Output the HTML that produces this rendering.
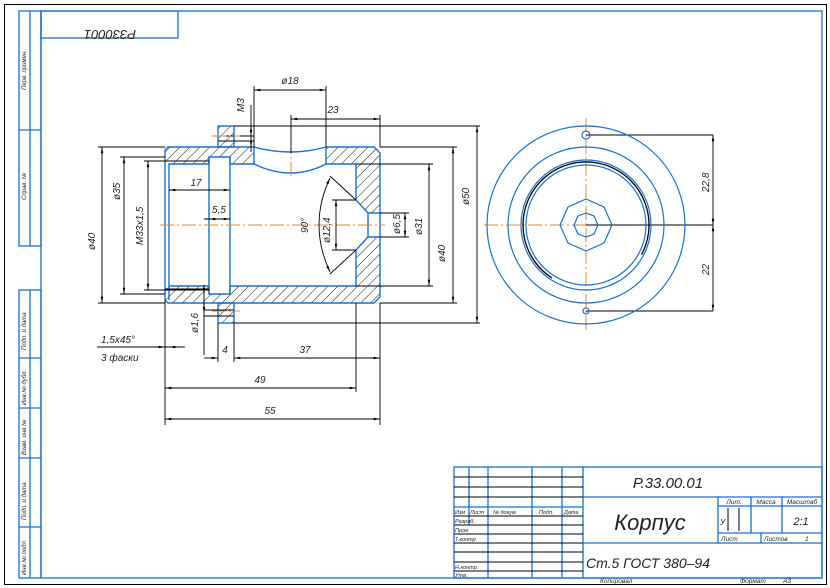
<!DOCTYPE html>
<html><head><meta charset="utf-8"><style>
html,body{margin:0;padding:0;background:#fff;}
svg{display:block;font-family:"Liberation Sans","DejaVu Sans",sans-serif;}
.t{font-style:italic;fill:#222;}
</style></head><body>
<svg width="830" height="588" viewBox="0 0 830 588" xmlns="http://www.w3.org/2000/svg">
<defs>
<pattern id="h" patternUnits="userSpaceOnUse" width="7" height="7" patternTransform="rotate(45)">
<line x1="0" y1="0" x2="0" y2="7" stroke="#000" stroke-width="0.9"/>
</pattern>
<marker id="a" viewBox="0 0 10 4" refX="10" refY="2" markerWidth="7" markerHeight="3" orient="auto-start-reverse"><path d="M0,0 L10,2 L0,4 z" fill="#000"/></marker>
</defs>
<rect x="0" y="0" width="830" height="588" fill="#fff"/>
<rect x="4.5" y="4.5" width="822" height="580" fill="none" stroke="#000" stroke-width="1"/>
<g fill="none" stroke="#1a6fd0" stroke-width="1.3">
<rect x="41" y="11" width="781" height="567"/>
<rect x="19" y="11" width="22" height="235"/>
<line x1="30" y1="11" x2="30" y2="246"/>
<line x1="19" y1="130" x2="41" y2="130"/>
<rect x="19" y="290" width="22" height="288"/>
<line x1="30" y1="290" x2="30" y2="578"/>
<line x1="19" y1="358" x2="41" y2="358"/>
<line x1="19" y1="408" x2="41" y2="408"/>
<line x1="19" y1="458" x2="41" y2="458"/>
<line x1="19" y1="527" x2="41" y2="527"/>
<rect x="41" y="11" width="137" height="27"/>
<rect x="454" y="467" width="368" height="111"/>
<line x1="583" y1="467" x2="583" y2="578"/>
<line x1="583" y1="497" x2="822" y2="497"/>
<line x1="583" y1="543" x2="822" y2="543"/>
<line x1="718" y1="497" x2="718" y2="543"/>
<line x1="751" y1="497" x2="751" y2="533"/>
<line x1="782" y1="497" x2="782" y2="533"/>
<line x1="718" y1="506" x2="822" y2="506"/>
<line x1="718" y1="533" x2="822" y2="533"/>
<line x1="761" y1="533" x2="761" y2="543"/>
<line x1="469" y1="467" x2="469" y2="525"/>
<line x1="488" y1="467" x2="488" y2="578"/>
<line x1="532" y1="467" x2="532" y2="578"/>
<line x1="562" y1="467" x2="562" y2="578"/>
<line x1="454" y1="507" x2="583" y2="507"/>
</g>
<g stroke="#000" stroke-width="1">
<line x1="454" y1="477" x2="583" y2="477"/>
<line x1="454" y1="487" x2="583" y2="487"/>
<line x1="454" y1="497" x2="583" y2="497"/>
<line x1="454" y1="516" x2="583" y2="516"/>
<line x1="454" y1="525" x2="583" y2="525"/>
<line x1="454" y1="534" x2="583" y2="534"/>
<line x1="454" y1="543" x2="583" y2="543"/>
<line x1="454" y1="552" x2="583" y2="552"/>
<line x1="454" y1="562" x2="583" y2="562"/>
<line x1="454" y1="571" x2="583" y2="571"/>
<line x1="728" y1="508" x2="728" y2="531"/>
<line x1="739" y1="508" x2="739" y2="531"/>
</g>
<g class="t">
<text x="668" y="488" font-size="15" text-anchor="middle">Р.33.00.01</text>
<text x="650" y="530" font-size="22" text-anchor="middle">Корпус</text>
<text x="648" y="568" font-size="14" text-anchor="middle">Ст.5 ГОСТ 380–94</text>
<text x="734" y="504" font-size="6.5" text-anchor="middle">Лит.</text>
<text x="766" y="504" font-size="6.5" text-anchor="middle">Масса</text>
<text x="802" y="504" font-size="6.5" text-anchor="middle">Масштаб</text>
<text x="801" y="525" font-size="11" text-anchor="middle">2:1</text>
<text x="720" y="525" font-size="8">У</text>
<text x="721" y="541" font-size="6.5">Лист</text>
<text x="764" y="541" font-size="6.5">Листов</text>
<text x="805" y="541" font-size="6.5">1</text>
<text x="455" y="514" font-size="5.5">Изм</text>
<text x="470" y="514" font-size="5.5">Лист</text>
<text x="493" y="514" font-size="5.5">№ докум.</text>
<text x="539" y="514" font-size="5.5">Подп.</text>
<text x="564" y="514" font-size="5.5">Дата</text>
<text x="455" y="523" font-size="5.5">Разраб.</text>
<text x="455" y="532" font-size="5.5">Пров.</text>
<text x="455" y="541" font-size="5.5">Т.контр.</text>
<text x="455" y="569" font-size="5.5">Н.контр.</text>
<text x="455" y="577" font-size="5.5">Утв.</text>
<text x="600" y="583" font-size="6.5">Копировал</text>
<text x="740" y="583" font-size="6.5">Формат</text>
<text x="783" y="583" font-size="6.5">А3</text>
<text x="110" y="20" font-size="13" text-anchor="middle" transform="rotate(180 110 25)">Р330001</text>
<text font-size="6" transform="translate(26 90) rotate(-90)">Перв. примен.</text>
<text font-size="6" transform="translate(26 200) rotate(-90)">Справ. №</text>
<text font-size="6" transform="translate(26 350) rotate(-90)">Подп. и дата</text>
<text font-size="6" transform="translate(26 405) rotate(-90)">Инв.№ дубл.</text>
<text font-size="6" transform="translate(26 455) rotate(-90)">Взам. инв.№</text>
<text font-size="6" transform="translate(26 520) rotate(-90)">Подп. и дата</text>
<text font-size="6" transform="translate(26 575) rotate(-90)">Инв.№ подл.</text>
</g>

<g fill="url(#h)" stroke="none">
<path d="M168,147 L254,147 L254,164 L230,164 L230,157 L209,157 L209,164 L165,164 L165,150 Z"/>
<rect x="218" y="126" width="16" height="21"/>
<path d="M326,147 L374,147 L380,153 L380,164 L326,164 Z"/>
<path d="M356,164 L380,164 L380,213 L368,213 L356,200 Z"/>
<path d="M356,250 L368,237 L380,237 L380,297 L374,303 L356,303 Z"/>
<path d="M165,286 L209,286 L209,294 L230,294 L230,286 L356,286 L356,303 L168,303 L165,300 Z"/>
<rect x="218" y="303" width="16" height="20"/>
</g>
<g fill="none" stroke="#1a6fd0" stroke-width="1.4">
<path d="M254,147 L168,147 L165,150 L165,300 L168,303 L374,303 L380,297 L380,153 L374,147 L326,147"/>
<path d="M254,147 Q291,157 326,147"/>
<path d="M254,164 Q291,182 326,164"/>
<line x1="254" y1="147" x2="254" y2="164"/>
<line x1="326" y1="147" x2="326" y2="164"/>
<path d="M169,300 L169,164 L209,164 M230,164 L254,164 M326,164 L356,164 L356,200 L368,213 L380,213 M380,237 L368,237 L356,250 L356,286 L230,286 M209,286 L169,286"/>
<line x1="368" y1="213" x2="368" y2="237"/>
<path d="M209,164 L209,157 L230,157 L230,164 M209,286 L209,294 L230,294 L230,286"/>
<path d="M209,157 L209,294 M230,157 L230,294"/>
<rect x="218" y="126" width="16" height="21"/>
<rect x="218" y="303" width="16" height="20"/>
</g>
<g stroke="#000" stroke-width="1" fill="none">
<line x1="165" y1="161" x2="209" y2="161"/>
<line x1="165" y1="289" x2="209" y2="289"/>
<line x1="218" y1="136" x2="254" y2="136"/>
<line x1="218" y1="141" x2="254" y2="141"/>
<line x1="204" y1="310" x2="234" y2="310"/>
<line x1="204" y1="316" x2="234" y2="316"/>
</g>
<g stroke="#e08a2a" stroke-width="1" stroke-dasharray="14,3,2,3" fill="none">
<line x1="160" y1="225" x2="385" y2="225"/>
<line x1="291" y1="140" x2="291" y2="177"/>
<line x1="212" y1="136" x2="240" y2="136"/>
<line x1="212" y1="311" x2="240" y2="311"/>
<line x1="484" y1="225" x2="700" y2="225"/>
<line x1="586" y1="118" x2="586" y2="330"/>
</g>

<g stroke="#000" stroke-width="0.9" fill="none">
<path d="M254,147 V86 M326,147 V86 M291,153 V115 M380,147 V115"/>
<path d="M234,126 H480 M380,147 H457 M234,323 H480 M380,303 H457"/>
<path d="M165,147 H98 M165,303 H98 M165,157 H120 M165,294 H120 M165,161 H144 M209,290 H144"/>
<path d="M165,300 V425 M356,303 V392 M380,303 V425 M218,323 V362 M234,323 V362"/>
<path d="M356,164 H433 M356,286 H433 M356,200 H332 M356,250 H332 M380,213 H409 M380,237 H409"/>
<path d="M356,200 L330,176 M356,250 L330,274"/>
<path d="M251,105 V152"/>
<path d="M204,290 V355"/>
<g marker-start="url(#a)" marker-end="url(#a)">
<line x1="254" y1="90" x2="326" y2="90"/>
<line x1="291" y1="119" x2="380" y2="119"/>
<line x1="477" y1="126" x2="477" y2="323"/>
<line x1="453" y1="147" x2="453" y2="303"/>
<line x1="429" y1="164" x2="429" y2="286"/>
<line x1="405" y1="213" x2="405" y2="237"/>
<line x1="336" y1="200" x2="336" y2="250"/>
<line x1="102" y1="147" x2="102" y2="303"/>
<line x1="124" y1="157" x2="124" y2="294"/>
<line x1="148" y1="161" x2="148" y2="290"/>
<line x1="169" y1="190" x2="230" y2="190"/>
<line x1="165" y1="388" x2="356" y2="388"/>
<line x1="165" y1="419" x2="380" y2="419"/>
<line x1="234" y1="358" x2="380" y2="358"/>
<line x1="713" y1="135" x2="713" y2="225"/>
<line x1="713" y1="225" x2="713" y2="311"/>
<path d="M330,178 Q308,225 330,272"/>
</g>
<line x1="204" y1="219" x2="230" y2="219" marker-end="url(#a)"/>
<line x1="209" y1="219" x2="228" y2="219" marker-start="url(#a)"/>
<line x1="204" y1="358" x2="218" y2="358" marker-end="url(#a)"/>
<line x1="251" y1="130" x2="251" y2="126" marker-end="url(#a)"/>
<line x1="251" y1="142" x2="251" y2="147" marker-end="url(#a)"/>
<line x1="204" y1="285" x2="204" y2="294" marker-end="url(#a)"/>
<line x1="204" y1="312" x2="204" y2="303" marker-end="url(#a)"/>
<path d="M97,347 H183"/>
<line x1="150" y1="347" x2="165" y2="347" marker-end="url(#a)"/>
<line x1="185" y1="347" x2="169" y2="347" marker-end="url(#a)"/>
<path d="M586,135 H713 M586,225 H713 M586,311 H713"/>
</g>
<g class="t" font-size="10">
<text x="290" y="84" text-anchor="middle">ø18</text>
<text x="333" y="113" text-anchor="middle">23</text>
<text transform="translate(244 112) rotate(-90)">M3</text>
<text transform="translate(469 205) rotate(-90)">ø50</text>
<text transform="translate(445 262) rotate(-90)">ø40</text>
<text transform="translate(422 235) rotate(-90)">ø31</text>
<text transform="translate(400 234) rotate(-90)">ø6,5</text>
<text transform="translate(330 243) rotate(-90)">ø12,4</text>
<text transform="translate(308 233) rotate(-90)">90°</text>
<text transform="translate(95 250) rotate(-90)">ø40</text>
<text transform="translate(120 200) rotate(-90)">ø35</text>
<text transform="translate(143 245) rotate(-90)">M33x1,5</text>
<text transform="translate(198 333) rotate(-90)">ø1,6</text>
<text x="196" y="186" text-anchor="middle">17</text>
<text x="219" y="213" text-anchor="middle">5,5</text>
<text x="101" y="343">1,5x45°</text>
<text x="101" y="361">3 фаски</text>
<text x="225" y="353" text-anchor="middle">4</text>
<text x="305" y="353" text-anchor="middle">37</text>
<text x="260" y="383" text-anchor="middle">49</text>
<text x="270" y="414" text-anchor="middle">55</text>
<text transform="translate(709 192) rotate(-90)">22,8</text>
<text transform="translate(709 275) rotate(-90)">22</text>
</g>

<g fill="none" stroke="#1a6fd0" stroke-width="1.2">
<circle cx="586" cy="225" r="99"/>
<circle cx="586" cy="225" r="78"/>
<circle cx="586" cy="225" r="65"/>
<circle cx="586" cy="225" r="60"/>
<polygon points="612,225 604,243 586,251 568,243 560,225 568,207 586,199 604,207"/>
<polygon points="598,225 594,234 586,237 578,234 574,225 578,216 586,213 594,216"/>
<circle cx="586" cy="135" r="4"/>
<circle cx="586" cy="311" r="3"/>
</g>
<path d="M552,278 A63,63 0 1 1 641.6,254.6" fill="none" stroke="#000" stroke-width="1.3"/>
</svg>
</body></html>
